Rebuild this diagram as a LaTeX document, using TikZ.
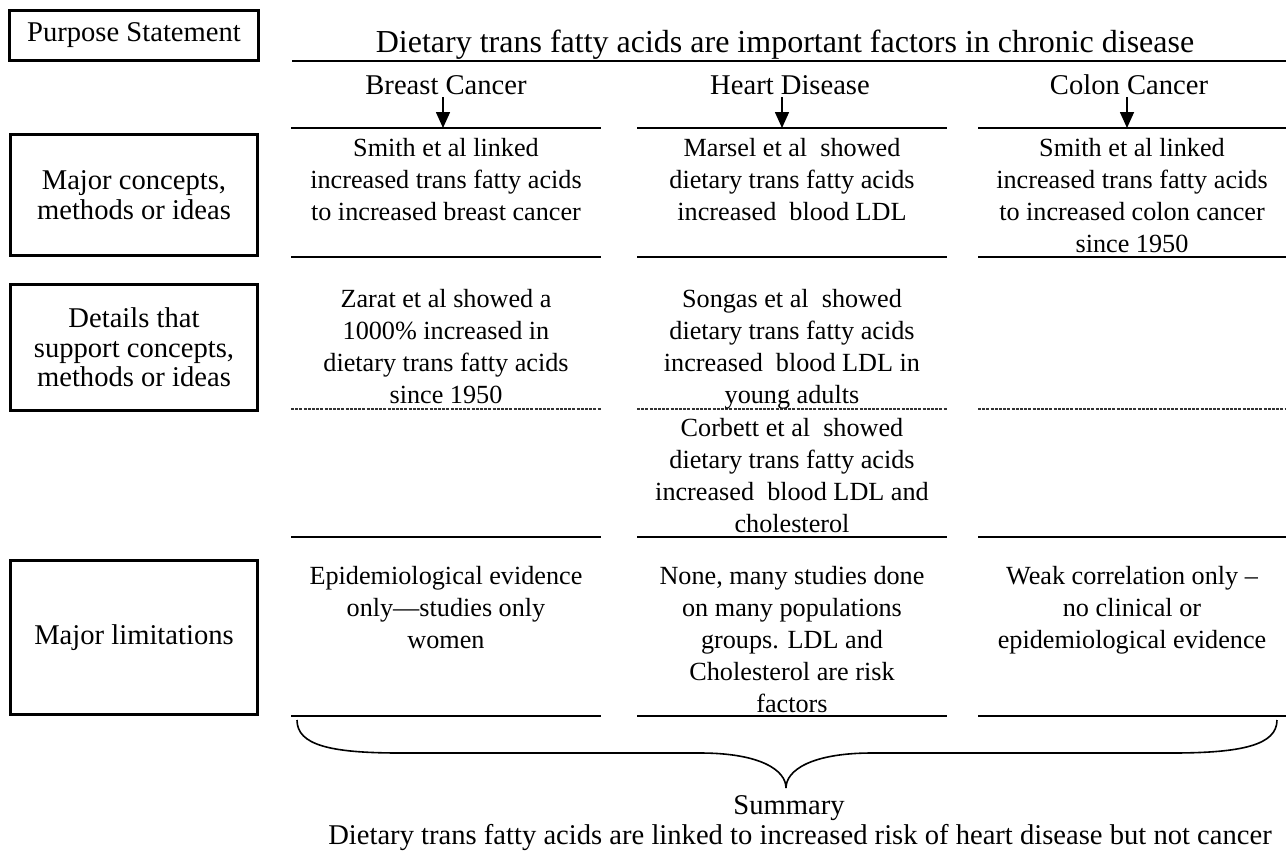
\documentclass[tikz,border=0pt]{standalone}
\usepackage{fontspec}
\setmainfont{Liberation Serif}
\usetikzlibrary{arrows.meta}
\newcommand{\bodyfont}{\fontsize{26.2}{32}\selectfont}
\newcommand{\headfont}{\fontsize{28.6}{30}\selectfont}
\newcommand{\boxfont}{\fontsize{28.6}{29.5}\selectfont}
\newcommand{\titlefont}{\fontsize{32}{36}\selectfont}
\tikzset{
  lbox/.style={draw, line width=3.4pt, inner sep=0pt, align=center, font=\boxfont},
  cell/.style={anchor=north, inner sep=0pt, align=center, font=\bodyfont},
  head/.style={anchor=base, inner sep=0pt, font=\headfont},
  rule/.style={line width=2pt},
  dashrule/.style={line width=2pt, black!80, dash pattern=on 3pt off 1.2pt},
  arr/.style={line width=1.6pt, -{Triangle[width=14pt,length=16pt]}},
  brace/.style={line width=1.6pt},
}
\begin{document}
\begin{tikzpicture}[x=1pt,y=-1pt]
\useasboundingbox (0,0) rectangle (1286,852);
\fill[white] (0,0) rectangle (1286,852);

% left boxes
\node[lbox, minimum width=248.6pt, minimum height=49.6pt] (purpose) at (134,35.5) {Purpose Statement};
\node[lbox, minimum width=246.6pt, minimum height=120.6pt] (major) at (134,195) {Major concepts,\\methods or ideas};
\node[lbox, minimum width=246.6pt, minimum height=125.6pt] (details) at (134,347.5) {Details that\\support concepts,\\methods or ideas};
\node[lbox, minimum width=246.6pt, minimum height=153.6pt] (limits) at (134,637.5) {Major limitations};

% title
\node[anchor=base, inner sep=0pt, font=\titlefont] (title) at (785,52) {Dietary trans fatty acids are important factors in chronic disease};
\draw[rule] (292,61) -- (1286,61);

% headings
\node[head] (hbc) at (446,94) {Breast Cancer};
\node[head] (hhd) at (790,94) {Heart Disease};
\node[head] (hcc) at (1129,94) {Colon Cancer};

\coordinate (a1s) at (443,97); \coordinate (a1e) at (443,128);
\coordinate (a2s) at (782,97); \coordinate (a2e) at (782,128);
\coordinate (a3s) at (1127,97); \coordinate (a3e) at (1127,128);
\draw[arr] (a1s) -- (a1e);
\draw[arr] (a2s) -- (a2e);
\draw[arr] (a3s) -- (a3e);

% horizontal rules
\foreach \y in {128,257,537,716}{
  \draw[rule] (291,\y) -- (601,\y);
  \draw[rule] (637,\y) -- (947,\y);
  \draw[rule] (978,\y) -- (1286,\y);
}
\draw[dashrule] (291,409) -- (601,409);
\draw[dashrule] (637,409) -- (947,409);
\draw[dashrule] (978,409) -- (1286,409);

% row 1
\node[cell] (r1c1) at (446,133.5) {\strut Smith et al linked\\increased trans fatty acids\\to increased breast cancer};
\node[cell] (r1c2) at (792,133.5) {\strut Marsel et al\ \ showed\\dietary trans fatty acids\\increased\ \ blood LDL};
\node[cell] (r1c3) at (1132,133.5) {\strut Smith et al linked\\increased trans fatty acids\\to increased colon cancer\\since 1950};

% row 2
\node[cell] (r2c1) at (446,284.6) {\strut Zarat et al showed a\\1000\% increased in\\dietary trans fatty acids\\since 1950};
\node[cell] (r2c2) at (792,284.6) {\strut Songas et al\ \ showed\\dietary trans fatty acids\\increased\ \ blood LDL in\\young adults};
\node[cell] (r2c2b) at (792,414) {\strut Corbett et al\ \ showed\\dietary trans fatty acids\\increased\ \ blood LDL and\\cholesterol};

% row 3
\node[cell] (r3c1) at (446,562) {\strut Epidemiological evidence\\only---studies only\\women};
\node[cell] (r3c2) at (792,562) {\strut None, many studies done\\on many populations\\groups. LDL and\\Cholesterol are risk\\factors};
\node[cell] (r3c3) at (1132,562) {\strut Weak correlation only --\\no clinical or\\epidemiological evidence};

% brace
\coordinate (bl) at (297,720);
\coordinate (btip) at (786,788);
\coordinate (br) at (1277,720);
\draw[brace] (bl) .. controls (297,745) and (330,753) .. (400,753) -- (700,753)
  .. controls (760,753) and (786,770) .. (btip)
  .. controls (786,770) and (812,753) .. (872,753) -- (1172,753)
  .. controls (1242,753) and (1277,745) .. (br);

% summary
\node[anchor=base, inner sep=0pt, font=\headfont] (sum) at (789,814) {Summary};
\node[anchor=base, inner sep=0pt, font=\headfont] (sumtext) at (800,844) {Dietary trans fatty acids are linked to increased risk of heart disease but not cancer};
\end{tikzpicture}
\end{document}
